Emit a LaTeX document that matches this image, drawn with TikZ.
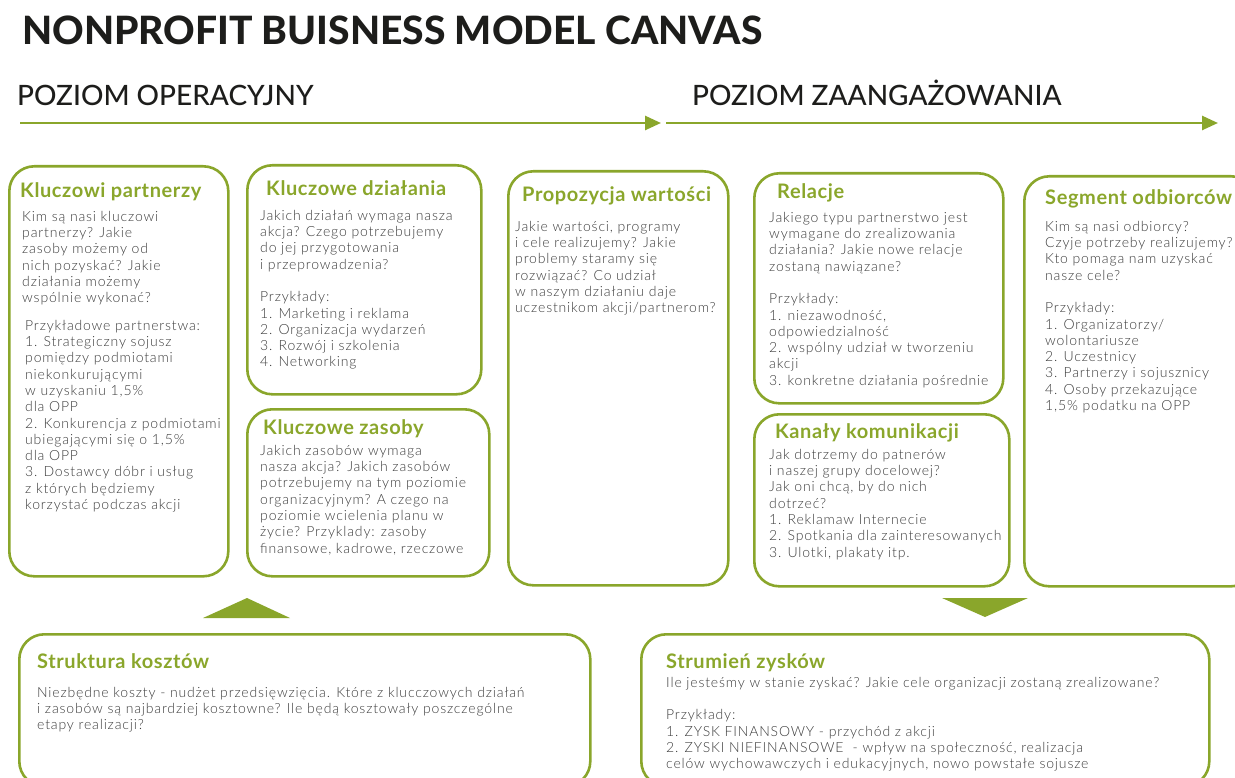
\documentclass[tikz,border=0pt]{standalone}
\usepackage{fontspec}
\usetikzlibrary{arrows.meta}
\IfFontExistsTF{Lato Light}{\newfontfamily\bodyfont{Lato Light}[LetterSpace=6]}{\newfontfamily\bodyfont{Lato}[LetterSpace=5]}
\IfFontExistsTF{Lato Medium}{\newfontfamily\midfont{Lato Medium}}{\newfontfamily\midfont{Lato}}
\IfFontExistsTF{Lato Heavy}{\newfontfamily\titlefont{Lato Heavy}}{\newfontfamily\titlefont{Lato}[UprightFont=*-Bold]}
\newfontfamily\headfont{Lato}[LetterSpace=3]
\setmainfont{Lato}
\definecolor{cgreen}{HTML}{8AA62B}
\definecolor{cgray}{HTML}{3C3C3C}
\definecolor{cdark}{HTML}{1D1D1B}
\tikzset{
  box/.style={draw=cgreen, line width=2.6pt, rounded corners=25pt, anchor=north west, inner sep=0pt},
  head/.style={anchor=base west, inner sep=0pt, text=cgreen, font=\headfont\bfseries\fontsize{20}{24}\selectfont},
  body/.style={anchor=north west, inner sep=0pt, align=left, text=cgray, font=\bodyfont\fontsize{14}{16.3}\selectfont},
  level/.style={anchor=base west, inner sep=0pt, text=cdark, font=\midfont\fontsize{28}{33}\selectfont},
  flow/.style={draw=cgreen, line width=2.6pt, -{Triangle[length=16pt,width=14pt]}},
  trishape/.style={fill=cgreen, draw=none}
}
\begin{document}
\begin{tikzpicture}[x=1pt,y=-1pt]
\useasboundingbox (0,0) rectangle (1235,778);
% title and levels
\node[anchor=base west, inner sep=0pt, text=cdark, font=\titlefont\fontsize{39}{44}\selectfont] (title) at (22,45) {NONPROFIT BUISNESS MODEL CANVAS};
\node[level] (lvlop) at (17,106) {POZIOM OPERACYJNY};
\node[level] (lvlza) at (692,106) {POZIOM ZAANGAŻOWANIA};
\coordinate (a1s) at (20,123);
\coordinate (a1e) at (661,123);
\coordinate (a2s) at (666,123);
\coordinate (a2e) at (1218,123);
\draw[flow] (a1s) -- (a1e);
\draw[flow] (a2s) -- (a2e);
% boxes
\node[box, minimum width=219pt, minimum height=410pt] (kp) at (8,165) {};
\node[box, minimum width=234pt, minimum height=229pt] (kd) at (246,164) {};
\node[box, minimum width=242pt, minimum height=167pt] (kz) at (246,408) {};
\node[box, minimum width=220pt, minimum height=414pt] (pw) at (507,170) {};
\node[box, minimum width=249pt, minimum height=230pt] (rel) at (753,172) {};
\node[box, minimum width=255pt, minimum height=172pt] (kk) at (753,413) {};
\node[box, minimum width=232pt, minimum height=410pt] (so) at (1023,175) {};
\node[box, minimum width=571pt, minimum height=152pt] (sk) at (18,633) {};
\node[box, minimum width=568pt, minimum height=152pt] (sz) at (640,633) {};
% triangles
\fill[trishape] (203,618) -- (247,598) -- (290,618) -- cycle;
\fill[trishape] (942,598) -- (1028,598) -- (985,617) -- cycle;
% Kluczowi partnerzy
\node[head] (kph) at (20,198) {Kluczowi partnerzy};
\node[body] (kpb1) at (22,209.6) {\strut Kim są nasi kluczowi\\partnerzy? Jakie\\zasoby możemy od\\nich pozyskać? Jakie\\działania możemy\\wspólnie wykonać?};
\node[body] (kpb2) at (25,318.6) {\strut Przykładowe partnerstwa:\\1. Strategiczny sojusz\\pomiędzy podmiotami\\niekonkurującymi\\w uzyskaniu 1,5\%\\dla OPP\\2. Konkurencja z podmiotami\\ubiegającymi się o 1,5\%\\dla OPP\\3. Dostawcy dóbr i usług\\z których będziemy\\korzystać podczas akcji};
% Kluczowe dzialania
\node[head] (kdh) at (266,196) {Kluczowe działania};
\node[body] (kdb) at (260,208.6) {\strut Jakich działań wymaga nasza\\akcja? Czego potrzebujemy\\do jej przygotowania\\i przeprowadzenia?\\[16.3pt]Przykłady:\\1. Marketing i reklama\\2. Organizacja wydarzeń\\3. Rozwój i szkolenia\\4. Networking};
% Kluczowe zasoby
\node[head] (kzh) at (263,434) {Kluczowe zasoby};
\node[body] (kzb) at (260,443.6) {\strut Jakich zasobów wymaga\\nasza akcja? Jakich zasobów\\potrzebujemy na tym poziomie\\organizacyjnym? A czego na\\poziomie wcielenia planu w\\życie? Przyklady: zasoby\\finansowe, kadrowe, rzeczowe};
% Propozycja wartosci
\node[head] (pwh) at (522,202) {Propozycja wartości};
\node[body] (pwb) at (515,219.6) {\strut Jakie wartości, programy\\i cele realizujemy? Jakie\\problemy staramy się\\rozwiązać? Co udział\\w naszym działaniu daje\\uczestnikom akcji/partnerom?};
% Relacje
\node[head] (relh) at (777,199) {Relacje};
\node[body] (relb) at (769,210.6) {\strut Jakiego typu partnerstwo jest\\wymagane do zrealizowania\\działania? Jakie nowe relacje\\zostaną nawiązane?\\[16.3pt]Przykłady:\\1. niezawodność,\\odpowiedzialność\\2. wspólny udział w tworzeniu\\akcji\\3. konkretne działania pośrednie};
% Kanaly komunikacji
\node[head] (kkh) at (775,438) {Kanały komunikacji};
\node[body] (kkb) at (769,447.6) {\strut Jak dotrzemy do patnerów\\i naszej grupy docelowej?\\Jak oni chcą, by do nich\\dotrzeć?\\1. Reklamaw Internecie\\2. Spotkania dla zainteresowanych\\3. Ulotki, plakaty itp.};
% Segment odbiorcow
\node[head] (soh) at (1045,205) {Segment odbiorców};
\node[body] (sob) at (1045,219.6) {\strut Kim są nasi odbiorcy?\\Czyje potrzeby realizujemy?\\Kto pomaga nam uzyskać\\nasze cele?\\[16.3pt]Przykłady:\\1. Organizatorzy/\\wolontariusze\\2. Uczestnicy\\3. Partnerzy i sojusznicy\\4. Osoby przekazujące\\1,5\% podatku na OPP};
% Struktura kosztow
\node[head] (skh) at (37,668) {Struktura kosztów};
\node[body] (skb) at (37,685.6) {\strut Niezbędne koszty - nudżet przedsięwzięcia. Które z klucczowych działań\\i zasobów są najbardziej kosztowne? Ile będą kosztowały poszczególne\\etapy realizacji?};
% Strumien zyskow
\node[head] (szh) at (666,668) {Strumień zysków};
\node[body] (szb) at (666,675.6) {\strut Ile jesteśmy w stanie zyskać? Jakie cele organizacji zostaną zrealizowane?\\[16.3pt]Przykłady:\\1. ZYSK FINANSOWY - przychód z akcji\\2. ZYSKI NIEFINANSOWE \ - wpływ na społeczność, realizacja\\celów wychowawczych i edukacyjnych, nowo powstałe sojusze};
\end{tikzpicture}
\end{document}
